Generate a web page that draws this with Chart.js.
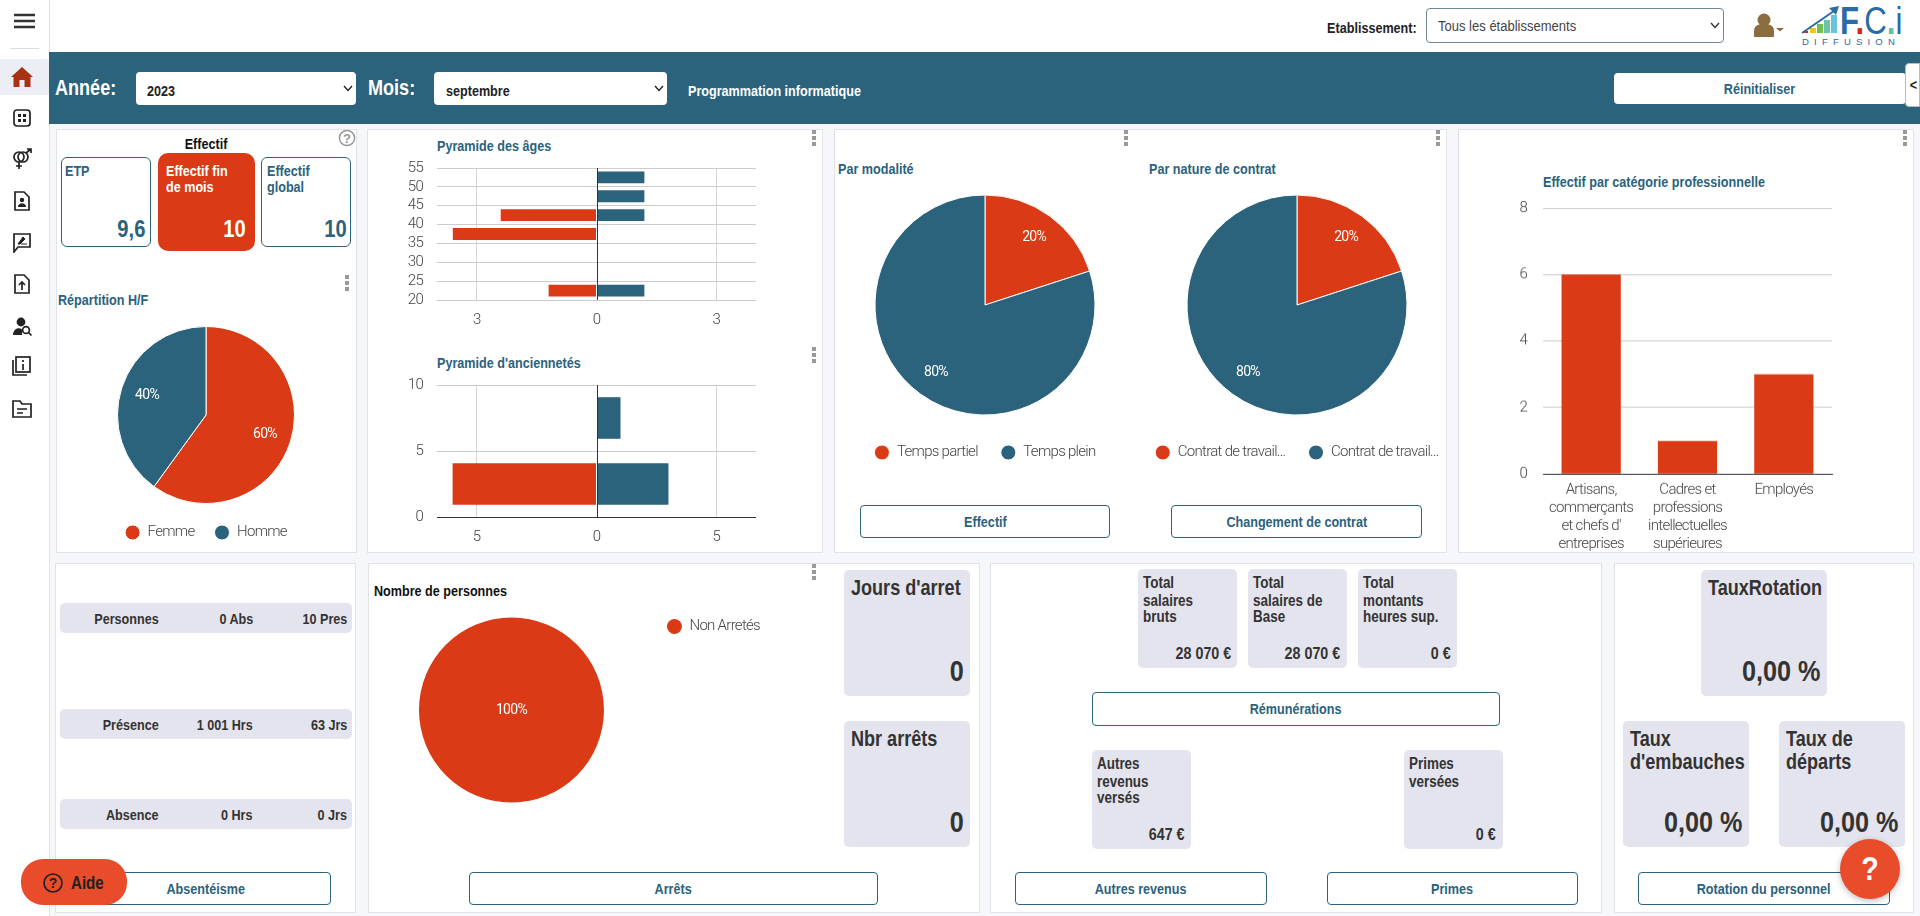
<!DOCTYPE html>
<html lang="fr">
<head>
<meta charset="utf-8">
<title>Tableau de bord</title>
<script src="https://cdn.jsdelivr.net/npm/chart.js@4"></script>
<style>
html, body { margin: 0; padding: 0; width: 1920px; height: 916px; overflow: hidden; background: #f6f7fb; }
body { position: relative; font-family: "Liberation Sans", sans-serif; font-size: 15px; color: #333; }
.a, canvas { position: absolute; }
.t { position: absolute; white-space: nowrap; font-weight: bold; line-height: 1; }
.panel { position: absolute; background: #fff; border: 1px solid #e2e3e8; box-sizing: border-box; }
.card { position: absolute; background: #e4e4ee; border-radius: 5px; }
.btn { position: absolute; background: #fff; border: 1px solid #2b627c; border-radius: 4px; box-sizing: border-box; color: #2b627c; font-weight: bold; display: flex; align-items: center; justify-content: center; }
.btn span { display: inline-block; transform: scaleX(.84); white-space: nowrap; }
.dots { position: absolute; width: 4px; height: 18px; background: radial-gradient(circle 2.2px, #999 98%, transparent) 0 0 / 4px 6px; }
svg { position: absolute; }
</style>
</head>
<body>
<script>
const RED = '#da3a16';
const BLUE = '#2b627c';
const TEXT_SQUEEZE = 0.84;

const sexLabels = ['Femme', 'Homme'];
const sexValues = [6, 4];

const ageBands = [22.5, 37.5, 42.5, 47.5, 52.5];
const ageFemale = [-1, -3, -2, 0, 0];
const ageMale = [1, 0, 1, 1, 1];
const ageXTicks = [-2.5, 0, 2.5];

const tenureBands = [2.5, 7.5];
const tenureFemale = [-6, 0];
const tenureMale = [3, 1];
const tenureXTicks = [-5, 0, 5];

const modeLabels = ['Temps partiel', 'Temps plein'];
const modeValues = [2, 8];
const contractLabels = ['Contrat de travail...', 'Contrat de travail...'];
const contractValues = [2, 8];

const jobCategories = [
    ['Artisans,', 'commerçants', "et chefs d'", 'entreprises'],
    ['Cadres et', 'professions', 'intellectuelles', 'supérieures'],
    ['Employés']
];
const jobValues = [6, 1, 3];

const stopLabels = ['Non Arretés'];
const stopValues = [10];

function el(cls, x, y, w, h, html) {
    const d = document.createElement('div');
    d.className = cls;
    d.style.cssText = `left:${x}px;top:${y}px;width:${w}px;height:${h}px`;
    if (html) d.innerHTML = html;
    document.body.appendChild(d);
    return d;
}

// y is the vertical centre of the text, align l, r or c against x
function txt(s, x, y, size, color, align, weight, squeeze) {
    const d = document.createElement('div');
    const k = squeeze || TEXT_SQUEEZE;
    d.className = 't';
    d.textContent = s;
    d.style.cssText = `top:${y}px;font-size:${size}px;color:${color};font-weight:${weight || 'bold'};` +
        (align === 'r' ? `right:${1920 - x}px;transform-origin:right center;transform:translateY(-50%) scaleX(${k})`
            : align === 'c' ? `left:${x}px;transform:translate(-50%,-50%) scaleX(${k})`
            : `left:${x}px;transform-origin:left center;transform:translateY(-50%) scaleX(${k})`);
    document.body.appendChild(d);
    return d;
}

function btn(s, x1, x2, y1, y2) {
    return el('btn', x1, y1, x2 - x1, y2 - y1, `<span>${s}</span>`);
}

function dots(x, y) {
    el('dots', x - 2, y, 4, 18);
}

function svg(x, y, w, h, inner) {
    document.body.insertAdjacentHTML('beforeend',
        `<svg style="left:${x}px;top:${y}px" width="${w}" height="${h}" viewBox="0 0 ${w} ${h}">${inner}</svg>`);
}

// page frame
el('a', 0, 0, 1920, 52).style.background = '#fff';
el('a', 0, 0, 49, 916).style.cssText += ';background:#fff;border-right:1px solid #e2e3e8';
el('a', 49, 52, 1871, 72).style.background = BLUE;

// panels
el('panel', 55.5, 129, 301, 424);
el('panel', 367, 129, 456, 424);
el('panel', 834, 129, 613, 424);
el('panel', 1458, 129, 456, 424);
el('panel', 55, 563, 301, 350);
el('panel', 367.5, 563, 612, 350);
el('panel', 990, 563, 612, 350);
el('panel', 1614, 563, 300, 350);

// sidebar icons
svg(13, 12, 24, 18, `<g stroke="#333" stroke-width="2.4"><path d="M1 3h21M1 9h21M1 15h21"/></g>`);
el('a', 10, 47.5, 29, 1).style.background = '#ddd';
el('a', 0, 59, 49, 36).style.background = '#eceef5';
svg(11, 66, 22, 22, `<path d="M11 1 L22 11 L19.5 11 L19.5 21 L13.5 21 L13.5 14 L8.5 14 L8.5 21 L2.5 21 L2.5 11 L0 11 Z" fill="#a83312"/>`);
const ic = 'fill="none" stroke="#222" stroke-width="1.7"';
svg(12, 108, 20, 20, `<rect x="2" y="2" width="16" height="16" rx="3" ${ic}/><path d="M6 6h3v3H6zM11 6h3v3h-3zM6 11h3v3H6zM11 11h3v3h-3z" fill="#222"/>`);
svg(11, 148, 22, 24, `<circle cx="8" cy="9" r="5" ${ic}/><circle cx="12" cy="9" r="5" ${ic}/><path d="M8 14v7M5 18h6M15 5l5-4M16 1h4v4" ${ic}/>`);
svg(13, 191, 18, 20, `<path d="M2 1h9l5 5v13H2z" ${ic}/><circle cx="9" cy="9" r="2.2" fill="#222"/><path d="M5 16c0-5 8-5 8 0z" fill="#222"/>`);
svg(12, 232, 20, 21, `<path d="M2 2h16v13H6l-4 5z" ${ic}/><path d="M6 12l5-7 2 2-5 5zM9 12h6" fill="#222" stroke="#222"/>`);
svg(13, 274, 18, 20, `<path d="M2 1h9l5 5v13H2z" ${ic}/><path d="M9 16V8M6 11l3-3 3 3" ${ic}/>`);
svg(12, 317, 22, 20, `<circle cx="9" cy="5" r="4.4" fill="#222"/><path d="M1 18c0-8 9-8 9-5v5z" fill="#222"/><circle cx="14" cy="13" r="3.4" ${ic}/><path d="M16.5 15.5l3 3" ${ic}/>`);
svg(12, 356, 20, 20, `<rect x="4" y="1" width="14" height="15" ${ic}/><path d="M1 4v15h14" ${ic}/><path d="M11 4v2M11 8v6" ${ic}/>`);
svg(12, 400, 20, 18, `<path d="M1 1h7l2 3h9v13H1z" ${ic}/><path d="M5 9h10M5 13h6" ${ic}/>`);

// top bar
txt('Etablissement:', 1417, 26.8, 15, '#222', 'r');
const estab = el('a', 1426, 8, 298, 34.5);
estab.style.cssText += ';background:#fff;border:1px solid #6f8794;border-radius:4px;box-sizing:border-box';
txt('Tous les établissements', 1438, 26, 15.5, '#444', 'l', 'normal');
const chevron = c => `<path d="M1 1l4 4.5 4-4.5" fill="none" stroke="${c}" stroke-width="1.4"/>`;
svg(1710, 22, 10, 8, chevron('#333'));
svg(1752, 13, 34, 26, `<circle cx="12" cy="7" r="6.5" fill="#8c6d3f"/><path d="M2 24v-6c0-6 5-7 10-7s10 1 10 7v6z" fill="#8c6d3f"/><path d="M24 15h8l-4 3.5z" fill="#8c6d3f"/>`);

// logo
svg(1801, 4, 42, 32, `<path d="M2 27h5v2H2z" fill="#d0281c"/><path d="M9 24h6v5H9z" fill="#f5c518"/><path d="M16 20h6v9h-6z" fill="#6fbf4a"/><path d="M23 16h6v13h-6z" fill="#6cc4a8"/><path d="M30 11h6v18h-6z" fill="#68c3dc"/><path d="M1 29L33 7" stroke="#2a6ba8" stroke-width="2"/><path d="M28 4l10-2-3 9z" fill="#2a6ba8"/>`);
const logo = txt('', 1840, 20, 39, '#2a6ba8', 'l', 'bold', 0.8);
logo.innerHTML = 'F<span style="color:#d0281c">.</span><span style="font-weight:normal">C</span><span style="color:#5cc0a6">.</span><span style="font-weight:normal">i</span>';
const diff = txt('DIFFUSION', 1802, 41.7, 9.5, '#2a6ba8', 'l', 'normal', 1);
diff.style.letterSpacing = '5.2px';

// banner
const selectBox = (x1, x2) => {
    const s = el('a', x1, 71.5, x2 - x1, 33);
    s.style.cssText += ';background:#fff;border-radius:4px';
};
txt('Année:', 55, 89, 21.5, '#fff');
selectBox(135.5, 356);
txt('2023', 147, 89.5, 15, '#222');
svg(343, 85, 10, 8, chevron('#222'));
txt('Mois:', 367.5, 89, 21.5, '#fff');
selectBox(434, 667.4);
txt('septembre', 446, 89.5, 15, '#222');
svg(654, 85, 10, 8, chevron('#222'));
txt('Programmation informatique', 688, 89.5, 15, '#fff');
btn('Réinitialiser', 1614, 1906, 72.5, 104).style.border = 'none';
const tab = btn('&lt;', 1905, 1920, 62.5, 107);
tab.style.cssText += ';border:1px solid #bbb;color:#222;border-radius:4px 0 0 4px;justify-content:flex-start;padding-left:3px';

// panel 1
txt('Effectif', 205.7, 143, 15, '#111', 'c');
svg(338, 129, 18, 18, `<circle cx="9" cy="9" r="7.6" fill="none" stroke="#999" stroke-width="1.5"/><text x="9" y="13.5" font-size="13" font-weight="bold" fill="#999" text-anchor="middle" font-family="Liberation Sans">?</text>`);
const kpi = (x, w) => {
    const k = el('a', x, 157, w, 90);
    k.style.cssText += `;background:#fff;border:1px solid ${BLUE};border-radius:6px;box-sizing:border-box`;
};
kpi(60.5, 90);
kpi(261.4, 90);
const act = el('a', 157.5, 153, 97, 98);
act.style.cssText += `;background:${RED};border-radius:10px`;
txt('ETP', 65, 169.5, 15, BLUE);
txt('9,6', 145.7, 229, 24, BLUE, 'r');
txt('Effectif fin', 166, 169.5, 15, '#fff');
txt('de mois', 166, 186, 15, '#fff');
txt('10', 246, 229, 24, '#fff', 'r');
txt('Effectif', 266.7, 169.5, 15, BLUE);
txt('global', 266.7, 186, 15, BLUE);
txt('10', 347, 229, 24, BLUE, 'r');
dots(347, 274);
txt('Répartition H/F', 58, 298.5, 15, BLUE);

// panel 2
txt('Pyramide des âges', 437, 144.5, 15, BLUE);
dots(814, 129);
txt("Pyramide d'anciennetés", 437, 361.5, 15, BLUE);
dots(814, 346);

// panel 3
txt('Par modalité', 837.6, 167.5, 15, BLUE);
txt('Par nature de contrat', 1149, 167.5, 15, BLUE);
dots(1126, 129);
dots(1437.6, 129);
btn('Effectif', 860, 1110, 505, 538);
btn('Changement de contrat', 1171, 1421.6, 505, 538);

// panel 4
txt('Effectif par catégorie professionnelle', 1543, 181, 15, BLUE);
dots(1905, 129);

// absenteeism rows
[['Personnes', '0 Abs', '10 Pres', 603], ['Présence', '1 001 Hrs', '63 Jrs', 709], ['Absence', '0 Hrs', '0 Jrs', 799]].forEach(r => {
    el('card', 60, r[3], 292, 30);
    txt(r[0], 159, r[3] + 15, 15, '#333', 'r');
    txt(r[1], 253, r[3] + 15, 15, '#333', 'r');
    txt(r[2], 347, r[3] + 15, 15, '#333', 'r');
});
btn('Absentéisme', 80.5, 331, 872, 905);

// arrets
txt('Nombre de personnes', 374, 589.7, 15, '#111');
dots(814, 563);
btn('Arrêts', 469, 877.5, 872, 905);
el('card', 844, 570, 126, 126);
txt("Jours d'arret", 851, 589, 21.5, '#333');
txt('0', 964, 670.7, 30, '#333', 'r');
el('card', 844, 721, 126, 126);
txt('Nbr arrêts', 851, 739.7, 21.5, '#333');
txt('0', 964, 821.7, 30, '#333', 'r');

// remunerations
[[1138.3, ['Total', 'salaires', 'bruts'], '28 070 €'], [1248, ['Total', 'salaires de', 'Base'], '28 070 €'], [1358.3, ['Total', 'montants', 'heures sup.'], '0 €']].forEach(c => {
    el('card', c[0], 569, 99, 99);
    [583, 601, 617].forEach((y, i) => txt(c[1][i], c[0] + 5, y, 16, '#333'));
    txt(c[2], c[0] + 92.5, 653, 17, '#333', 'r');
});
btn('Rémunérations', 1092, 1500, 692, 725.7);
el('card', 1092, 750, 99, 99);
['Autres', 'revenus', 'versés'].forEach((s, i) => txt(s, 1097, [764, 782, 798][i], 16, '#333'));
txt('647 €', 1184.4, 834, 17, '#333', 'r');
el('card', 1404, 750, 99, 99);
['Primes', 'versées'].forEach((s, i) => txt(s, 1409, [764, 782][i], 16, '#333'));
txt('0 €', 1496, 834, 17, '#333', 'r');
btn('Autres revenus', 1015, 1266.6, 872, 905);
btn('Primes', 1327, 1578, 872, 905);

// rotation
el('card', 1701, 570, 126, 126);
txt('TauxRotation', 1708, 589, 21.5, '#333');
txt('0,00 %', 1820.5, 670.7, 30, '#333', 'r');
el('card', 1623, 721, 126, 126);
txt('Taux', 1630, 739.7, 21.5, '#333');
txt("d'embauches", 1630, 762.7, 21.5, '#333');
txt('0,00 %', 1742.6, 821.7, 30, '#333', 'r');
el('card', 1779, 721, 126, 126);
txt('Taux de', 1786, 739.7, 21.5, '#333');
txt('départs', 1786, 762.7, 21.5, '#333');
txt('0,00 %', 1898.5, 821.7, 30, '#333', 'r');
btn('Rotation du personnel', 1638, 1889.5, 872, 905);

// floating help buttons
const aide = el('a', 21, 859, 106, 46);
aide.style.cssText += ';background:#e84c2b;border-radius:22px';
svg(42, 872, 22, 22, `<circle cx="11" cy="11" r="9" fill="none" stroke="#222" stroke-width="1.7"/><text x="11" y="16" font-size="14" font-weight="bold" fill="#222" text-anchor="middle" font-family="Liberation Sans">?</text>`);
txt('Aide', 71, 883, 18, '#222');
const fab = el('a', 1840, 839, 60, 60);
fab.style.cssText += ';background:#e84c2b;border-radius:50%;box-shadow:0 2px 6px rgba(0,0,0,.25)';
txt('?', 1870, 868, 34, '#fff', 'c');

function canvas(x, y, w, h) {
    const c = document.createElement('canvas');
    c.width = w;
    c.height = h;
    c.style.cssText = `left:${x}px;top:${y}px;width:${w}px;height:${h}px`;
    document.body.appendChild(c);
    return c;
}

Chart.defaults.font.family = 'Roboto';
Chart.defaults.font.weight = '300';
Chart.defaults.font.size = 15;
Chart.defaults.color = '#444';
Chart.defaults.animation = false;
Chart.defaults.responsive = false;
Chart.defaults.plugins.tooltip.enabled = false;

// the reference font is condensed, tighten canvas text the same way
Chart.register({
    id: 'tightText',
    beforeLayout(chart) { chart.ctx.letterSpacing = '-0.7px'; },
    beforeDraw(chart) { chart.ctx.letterSpacing = '-0.7px'; }
});

const pieLabels = {
    id: 'pieLabels',
    afterDatasetsDraw(chart) {
        const ctx = chart.ctx;
        const values = chart.data.datasets[0].data;
        const total = values.reduce((a, b) => a + b, 0);
        ctx.save();
        ctx.fillStyle = '#fff';
        ctx.font = '400 14px Roboto';
        ctx.textAlign = 'center';
        ctx.textBaseline = 'middle';
        chart.getDatasetMeta(0).data.forEach((arc, i) => {
            const mid = (arc.startAngle + arc.endAngle) / 2;
            const r = values[i] === total ? 0 : arc.outerRadius - 26.5;
            ctx.fillText(Math.round(values[i] / total * 100) + '%', arc.x + Math.cos(mid) * r, arc.y + Math.sin(mid) * r);
        });
        ctx.restore();
    }
};

// the zero line of the pyramids sits on top of the bars
const zeroLine = {
    id: 'zeroLine',
    afterDatasetsDraw(chart) {
        const ctx = chart.ctx;
        const x = Math.round(chart.scales.x.getPixelForValue(0)) + 0.5;
        ctx.save();
        ctx.strokeStyle = '#333';
        ctx.lineWidth = 1;
        ctx.beginPath();
        ctx.moveTo(x, chart.chartArea.top);
        ctx.lineTo(x, chart.chartArea.bottom);
        ctx.stroke();
        ctx.restore();
    }
};

function pie(x, y, w, h, radius, labels, values, legendPos, pad) {
    new Chart(canvas(x, y, w, h), {
        type: 'pie',
        data: {
            labels: labels,
            datasets: [{
                data: values,
                backgroundColor: [RED, BLUE],
                borderColor: '#fff',
                borderWidth: values.length > 1 ? 1 : 0,
                radius: radius
            }]
        },
        options: {
            plugins: {
                legend: {
                    position: legendPos,
                    align: legendPos === 'right' ? 'start' : 'center',
                    labels: { usePointStyle: true, pointStyle: 'circle', boxHeight: 10.6, pointStyleWidth: 15, padding: pad, color: '#444' }
                }
            }
        },
        plugins: [pieLabels]
    });
}

function pyramid(y, yMin, yMax, xLimit, xTicks, bands, female, male, darkBase) {
    new Chart(canvas(400, y, 366, 185), {
        type: 'bar',
        data: {
            datasets: [
                { label: 'Femme', data: bands.map((b, i) => ({ x: female[i], y: b })), backgroundColor: RED },
                { label: 'Homme', data: bands.map((b, i) => ({ x: male[i], y: b })), backgroundColor: BLUE }
            ]
        },
        options: {
            indexAxis: 'y',
            layout: { padding: { top: 10, right: 10 } },
            categoryPercentage: 1,
            barPercentage: 0.63,
            plugins: { legend: { display: false } },
            scales: {
                x: {
                    type: 'linear',
                    stacked: true,
                    min: -xLimit,
                    max: xLimit,
                    afterBuildTicks(s) { s.ticks = xTicks.map(v => ({ value: v })); },
                    afterFit(s) { s.height = 30; },
                    ticks: { padding: 11, callback: v => Math.round(Math.abs(v)) },
                    border: { display: false },
                    grid: { drawTicks: false, color: c => c.tick && c.tick.value === 0 ? 'transparent' : '#d5d5d5' }
                },
                y: {
                    type: 'linear',
                    stacked: true,
                    offset: false,
                    min: yMin,
                    max: yMax,
                    afterFit(s) { s.width = 37; },
                    ticks: { stepSize: 5, padding: 14, autoSkip: false },
                    border: { display: false },
                    grid: { offset: false, drawTicks: false, color: c => darkBase && c.tick && c.tick.value === 0 ? '#333' : '#ccc' }
                }
            }
        },
        plugins: [zeroLine]
    });
}

pie(60.7, 324.5, 290, 225, 88.5, sexLabels, sexValues, 'bottom', 20);
pyramid(145.2, 20, 55, 3.33, ageXTicks, ageBands, ageFemale, ageMale, false);
pyramid(362, 0, 10, 6.65, tenureXTicks, tenureBands, tenureFemale, tenureMale, true);
pie(835, 187.5, 300, 282, 110, modeLabels, modeValues, 'bottom', 23);
pie(1117, 187.5, 360, 282, 110, contractLabels, contractValues, 'bottom', 23);
pie(366, 609, 404.4, 202, 92.5, stopLabels, stopValues, 'right', 10);

new Chart(canvas(1505, 183.4, 337, 368.6), {
    type: 'bar',
    data: {
        labels: jobCategories,
        datasets: [{ data: jobValues, backgroundColor: RED }]
    },
    options: {
        layout: { padding: { top: 10, right: 10 } },
        categoryPercentage: 1,
        barPercentage: 0.615,
        plugins: { legend: { display: false } },
        scales: {
            x: {
                afterFit(s) { s.height = 77.7; },
                ticks: { padding: -1, maxRotation: 0, autoSkip: false, font: { lineHeight: 1.2 } },
                grid: { display: false },
                border: { color: '#333' }
            },
            y: {
                min: 0,
                max: 8,
                afterFit(s) { s.width = 38; },
                ticks: { stepSize: 2, padding: 16 },
                border: { display: false },
                grid: { drawTicks: false, color: '#ccc' }
            }
        }
    }
});
</script>
</body>
</html>
